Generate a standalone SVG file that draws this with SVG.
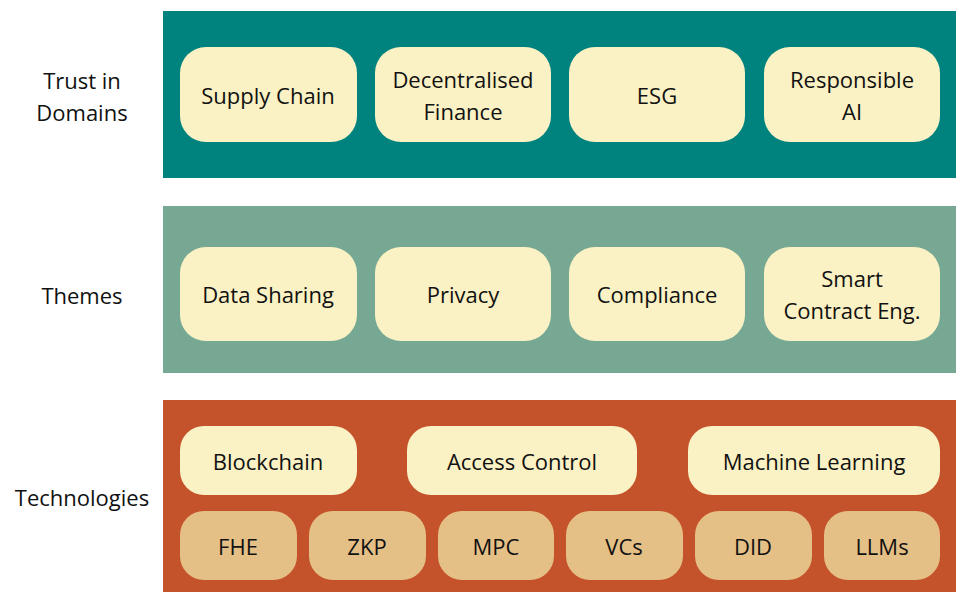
<svg xmlns="http://www.w3.org/2000/svg" width="961" height="601" viewBox="0 0 961 601">
<style>
text{font-family:"Open Sans","DejaVu Sans",sans-serif;font-size:22px;fill:#111;text-anchor:middle;dominant-baseline:central}
.b{fill:#faf1c4}
.d{fill:#e5c086}
</style>
<rect width="961" height="601" fill="#fff"/>
<g id="band-domains"><rect x="163" y="11" width="793" height="167" fill="#00827f"/><text x="82" y="80">Trust in</text><text x="82" y="112">Domains</text></g>
<g id="band-themes"><rect x="163" y="206" width="793" height="167" fill="#76a893"/><text x="82" y="295">Themes</text></g>
<g id="band-tech"><rect x="163" y="400" width="793" height="192" fill="#c4522b"/><text x="82" y="497">Technologies</text></g>
<g id="n1"><rect class="b" x="180" y="47" width="177" height="95" rx="26"/><text x="268" y="95">Supply Chain</text></g>
<g id="n2"><rect class="b" x="375" y="47" width="176" height="95" rx="26"/><text x="463" y="79">Decentralised</text><text x="463" y="111">Finance</text></g>
<g id="n3"><rect class="b" x="569" y="47" width="176" height="95" rx="26"/><text x="657" y="95">ESG</text></g>
<g id="n4"><rect class="b" x="764" y="47" width="176" height="95" rx="26"/><text x="852" y="79">Responsible</text><text x="852" y="111">AI</text></g>
<g id="n5"><rect class="b" x="180" y="247" width="177" height="94" rx="26"/><text x="268" y="294">Data Sharing</text></g>
<g id="n6"><rect class="b" x="375" y="247" width="176" height="94" rx="26"/><text x="463" y="294">Privacy</text></g>
<g id="n7"><rect class="b" x="569" y="247" width="176" height="94" rx="26"/><text x="657" y="294">Compliance</text></g>
<g id="n8"><rect class="b" x="764" y="247" width="176" height="94" rx="26"/><text x="852" y="278">Smart</text><text x="852" y="310">Contract Eng.</text></g>
<g id="n9"><rect class="b" x="180" y="426" width="177" height="69" rx="24"/><text x="268" y="461">Blockchain</text></g>
<g id="n10"><rect class="b" x="407" y="426" width="230" height="69" rx="24"/><text x="522" y="461">Access Control</text></g>
<g id="n11"><rect class="b" x="688" y="426" width="252" height="69" rx="24"/><text x="814" y="461">Machine Learning</text></g>
<g id="n12"><rect class="d" x="180" y="511" width="117" height="69" rx="24"/><text x="238" y="546">FHE</text></g>
<g id="n13"><rect class="d" x="309" y="511" width="117" height="69" rx="24"/><text x="367" y="546">ZKP</text></g>
<g id="n14"><rect class="d" x="438" y="511" width="116" height="69" rx="24"/><text x="496" y="546">MPC</text></g>
<g id="n15"><rect class="d" x="566" y="511" width="117" height="69" rx="24"/><text x="624" y="546">VCs</text></g>
<g id="n16"><rect class="d" x="695" y="511" width="117" height="69" rx="24"/><text x="753" y="546">DID</text></g>
<g id="n17"><rect class="d" x="824" y="511" width="116" height="69" rx="24"/><text x="882" y="546">LLMs</text></g>
<g id="connectors"/>
</svg>
